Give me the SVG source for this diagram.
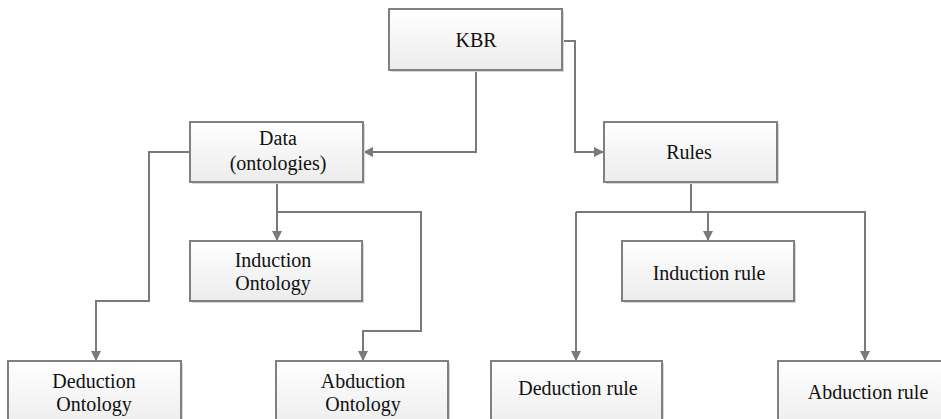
<svg xmlns="http://www.w3.org/2000/svg" width="941" height="419" viewBox="0 0 941 419">
<defs>
<linearGradient id="g" x1="0" y1="0" x2="0" y2="1">
<stop offset="0" stop-color="#ffffff"/>
<stop offset="1" stop-color="#ececec"/>
</linearGradient>
<marker id="arr" viewBox="0 0 10 10" refX="9" refY="5" markerWidth="10" markerHeight="10" markerUnits="userSpaceOnUse" orient="auto">
<path d="M0,0 L10,5 L0,10 z" fill="#7a7a7a"/>
</marker>
</defs>
<style>
.box{fill:url(#g);stroke:#808080;stroke-width:2}
.sh{fill:#d8d8d8}
.t{font-family:"Liberation Serif","Times New Roman",serif;font-size:20px;fill:#111;text-anchor:middle}
.c{fill:none;stroke:#7a7a7a;stroke-width:2}
</style>
<rect width="941" height="419" fill="#fff"/>
<g id="connectors">
<polyline class="c" points="476,70 476,152 364,152" marker-end="url(#arr)"/>
<polyline class="c" points="562,41 575,41 575,152 603,152" marker-end="url(#arr)"/>
<polyline class="c" points="190,152 149,152 149,301 96,301 96,360" marker-end="url(#arr)"/>
<polyline class="c" points="277,182 277,240" marker-end="url(#arr)"/>
<polyline class="c" points="277,212 421,212 421,331 363,331 363,360" marker-end="url(#arr)"/>
<polyline class="c" points="691,182 691,212"/>
<polyline class="c" points="576,212 865,212 865,360" marker-end="url(#arr)"/>
<polyline class="c" points="576,212 576,360" marker-end="url(#arr)"/>
<polyline class="c" points="708,212 708,240" marker-end="url(#arr)"/>
</g>
<g id="kbr">
<rect class="sh" x="391" y="11" width="173" height="61"/>
<rect class="box" x="389" y="9" width="173" height="61"/>
<text class="t" x="476" y="47">KBR</text>
</g>
<g id="data">
<rect class="sh" x="192" y="124" width="173" height="60"/>
<rect class="box" x="190" y="122" width="173" height="60"/>
<text class="t" x="278" y="145">Data</text>
<text class="t" x="278" y="170">(ontologies)</text>
</g>
<g id="rules">
<rect class="sh" x="606" y="124" width="173" height="60"/>
<rect class="box" x="604" y="122" width="173" height="60"/>
<text class="t" x="689" y="159">Rules</text>
</g>
<g id="induction-ontology">
<rect class="sh" x="192" y="243" width="172" height="60"/>
<rect class="box" x="190" y="241" width="172" height="60"/>
<text class="t" x="273" y="267">Induction</text>
<text class="t" x="273" y="290">Ontology</text>
</g>
<g id="induction-rule">
<rect class="sh" x="624" y="243" width="172" height="60"/>
<rect class="box" x="622" y="241" width="172" height="60"/>
<text class="t" x="709" y="280">Induction rule</text>
</g>
<g id="deduction-ontology">
<rect class="sh" x="10" y="363" width="173" height="70"/>
<rect class="box" x="8" y="361" width="173" height="70"/>
<text class="t" x="94" y="388">Deduction</text>
<text class="t" x="94" y="411">Ontology</text>
</g>
<g id="abduction-ontology">
<rect class="sh" x="278" y="363" width="172" height="70"/>
<rect class="box" x="276" y="361" width="172" height="70"/>
<text class="t" x="363" y="388">Abduction</text>
<text class="t" x="363" y="411">Ontology</text>
</g>
<g id="deduction-rule">
<rect class="sh" x="493" y="363" width="171" height="70"/>
<rect class="box" x="491" y="361" width="171" height="70"/>
<text class="t" x="578" y="395">Deduction rule</text>
</g>
<g id="abduction-rule">
<rect class="sh" x="780" y="363" width="174" height="70"/>
<rect class="box" x="778" y="361" width="174" height="70"/>
<text class="t" x="868" y="399">Abduction rule</text>
</g>
</svg>
